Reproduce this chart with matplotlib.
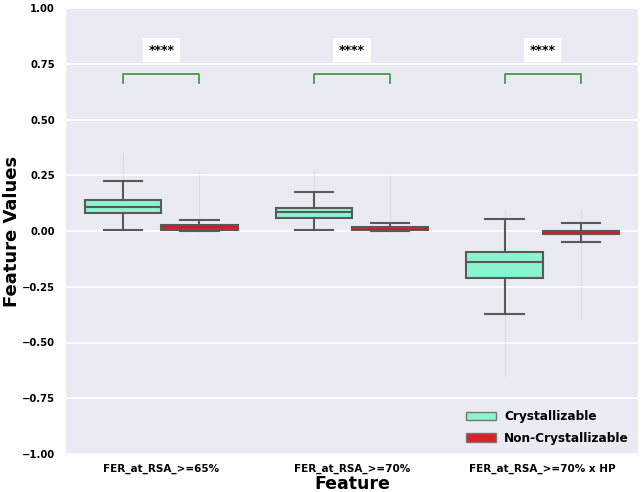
import matplotlib
matplotlib.use("Agg")
import matplotlib.pyplot as plt
import matplotlib.patches as mpatches
import numpy as np

features = ["FER_at_RSA_>=65%", "FER_at_RSA_>=70%", "FER_at_RSA_>=70% x HP"]
groups = ["Crystallizable", "Non-Crystallizable"]
colors = ["#8cf3d0", "#dd1f26"]

# box stats per group per feature: whislo, q1, med, q3, whishi
cryst_whislo = [0.004, 0.004, -0.374]
cryst_q1 = [0.081, 0.058, -0.209]
cryst_med = [0.108, 0.085, -0.140]
cryst_q3 = [0.139, 0.103, -0.096]
cryst_whishi = [0.226, 0.175, 0.054]
cryst_flier_lo = [0.0, 0.0, -0.65]
cryst_flier_hi = [0.35, 0.27, 0.10]

non_whislo = [0.0, 0.0, -0.048]
non_q1 = [0.004, 0.004, -0.014]
non_med = [0.016, 0.011, -0.007]
non_q3 = [0.029, 0.019, 0.002]
non_whishi = [0.049, 0.036, 0.034]
non_flier_lo = [0.0, 0.0, -0.40]
non_flier_hi = [0.27, 0.25, 0.10]

sig_labels = ["****", "****", "****"]

fig = plt.figure(figsize=(6.43, 4.92), dpi=100)
ax = fig.add_axes([66/643, 1 - 454/492, 572/643, 446/492])
ax.set_facecolor("#eaeaf2")
for s in ax.spines.values():
    s.set_visible(False)
ax.set_axisbelow(True)
ax.yaxis.grid(True, color="white", linewidth=1.2)

width = 0.4
edge = "#595959"
median_colors = [edge, "#b8262a"]
series = [
    (cryst_whislo, cryst_q1, cryst_med, cryst_q3, cryst_whishi, cryst_flier_lo, cryst_flier_hi),
    (non_whislo, non_q1, non_med, non_q3, non_whishi, non_flier_lo, non_flier_hi),
]
for gi, (wl, q1, md, q3, wh, fl, fh) in enumerate(series):
    pos = [i - 0.2 + gi * 0.4 for i in range(len(features))]
    stats = [dict(whislo=wl[i], q1=q1[i], med=md[i], q3=q3[i], whishi=wh[i], fliers=[]) for i in range(len(features))]
    ax.vlines(pos, fl, fh, color="#999999", alpha=0.18, linewidth=0.8, zorder=1)
    ax.bxp(stats, positions=pos, widths=width, patch_artist=True, showfliers=False,
           boxprops=dict(facecolor=colors[gi], edgecolor=edge, linewidth=1.5),
           medianprops=dict(color=median_colors[gi], linewidth=1.5 if gi == 0 else 1.2),
           whiskerprops=dict(color=edge, linewidth=1.5),
           capprops=dict(color=edge, linewidth=1.5), capwidths=0.2, manage_ticks=False)

# significance brackets
for i, lab in enumerate(sig_labels):
    x1, x2 = i - 0.2, i + 0.2
    ax.plot([x1, x1, x2, x2], [0.665, 0.704, 0.704, 0.665], color="#3a923a", linewidth=1.2)
    ax.text(i, 0.81, lab, ha="center", va="center", fontsize=9, fontweight="bold",
            bbox=dict(facecolor="white", edgecolor="none", boxstyle="square,pad=0.45"))

ax.set_xlim(-0.5, 2.5)
ax.set_ylim(-1.0, 1.0)
ax.set_xticks(range(len(features)))
ax.set_xticklabels(features, fontsize=7.5, fontweight="bold")
ax.set_yticks([-1.0, -0.75, -0.5, -0.25, 0.0, 0.25, 0.5, 0.75, 1.0])
ax.set_yticklabels(["\u22121.00", "\u22120.75", "\u22120.50", "\u22120.25", "0.00", "0.25", "0.50", "0.75", "1.00"],
                   fontsize=7.2, fontweight="bold")
ax.tick_params(axis="y", length=0, pad=8)
ax.tick_params(axis="x", length=0, pad=7)
ax.set_xlabel("Feature", fontsize=12.5, fontweight="bold", labelpad=1)
ax.set_ylabel("Feature Values", fontsize=13, fontweight="bold")
ax.yaxis.set_label_coords((21 - 66) / 572, 0.5)

handles = [mpatches.Patch(facecolor=c, edgecolor="#777777", label=g) for c, g in zip(colors, groups)]
leg = ax.legend(handles=handles, loc="lower right", frameon=False,
                prop=dict(weight="bold", size=8.7), handlelength=2.5, handletextpad=0.7,
                borderaxespad=0.35, labelspacing=0.7)

fig.savefig("out.png", dpi=100)
